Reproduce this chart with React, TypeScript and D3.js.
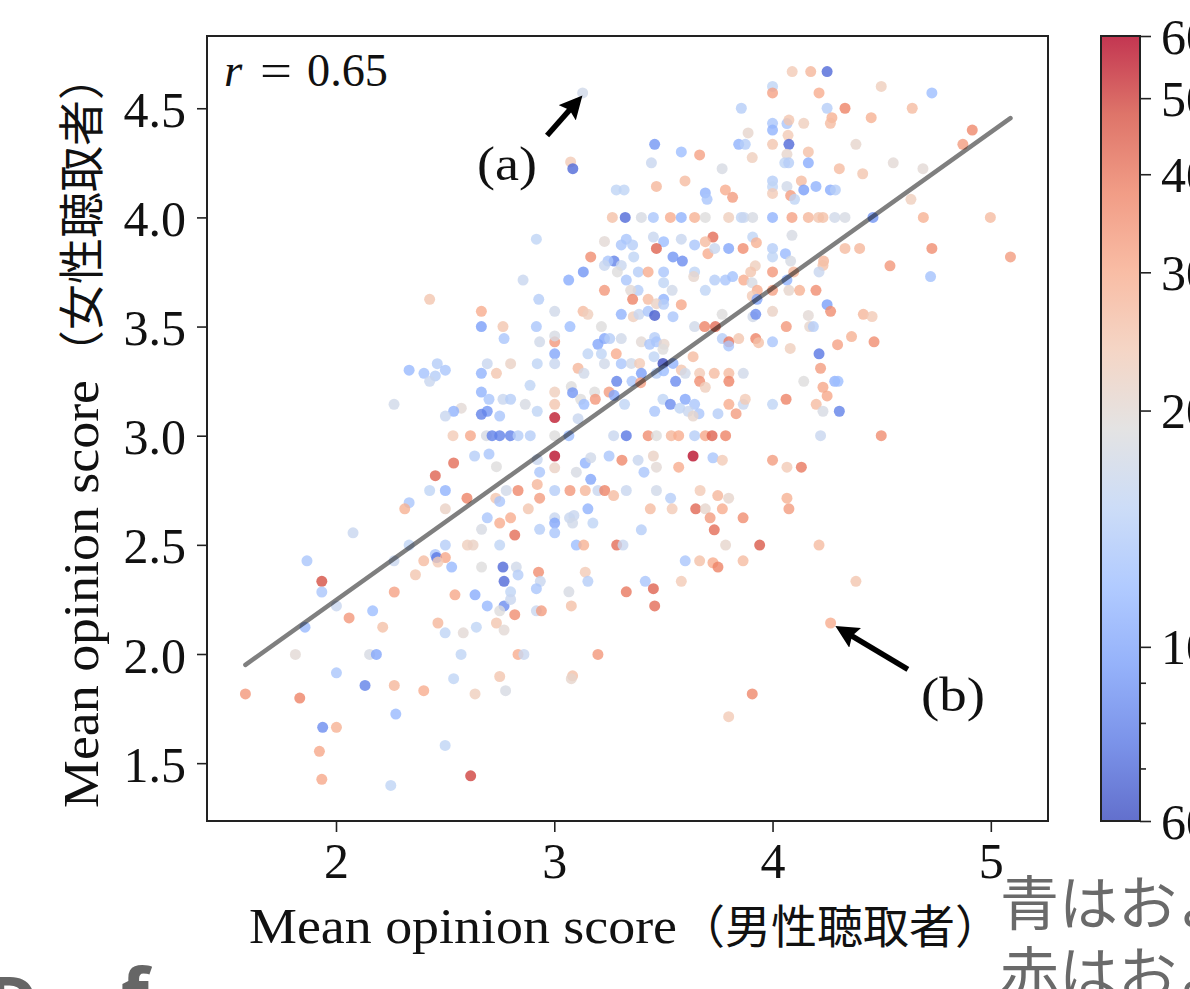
import * as d3 from "d3";
import React, { useEffect, useRef } from "react";

// [男性 MOS, 女性 MOS, count]
const upperLeft = [
  [3.13,4.57,17],[3.075,4.254,24],[3.085,4.223,7],[3.284,4.126,15],[3.32,4.126,15],[3.266,4.0,26],[3.325,4.0,7],
  [2.918,3.9,15],[3.23,3.89,20],[3.33,3.9,13],[3.307,3.874,13],[3.167,3.819,36],[3.274,3.8,8],[3.246,3.8,13],
  [3.23,3.78,16],[3.307,3.78,16],[3.289,3.75,19],[3.133,3.75,9],[3.066,3.713,10.5],[2.857,3.713,16],[3.33,3.713,13],
  [3.23,3.666,34],[2.429,3.625,25],[2.929,3.625,14],[2.666,3.57,30],[3.002,3.57,17],[3.132,3.57,27],[3.154,3.556,23],
  [3.307,3.556,11],[2.666,3.5,9.5],[2.765,3.5,25],[2.918,3.5,13],[3.072,3.5,12],[3.216,3.5,19],[2.77,3.445,13],
  [3.23,3.445,10],[3.254,3.445,14],[3.2,3.419,10],[3.307,3.445,17],[2.933,3.43,17],[3.002,3.43,34],[3.002,3.457,18],
  [3.002,3.375,10],[3.154,3.375,15],[3.216,3.375,15],[3.284,3.375,30],[3.307,3.33,13],[2.693,3.33,16],[2.8,3.33,22],
  [2.922,3.33,15],[3.002,3.33,16],[3.23,3.33,17],[2.335,3.3,11.5],[2.403,3.286,12.5],[2.464,3.33,14],[2.501,3.3,13],
  [2.455,3.274,14],[2.429,3.249,16],[2.666,3.286,11],[2.735,3.286,25],[3.109,3.309,28],[3.136,3.286,17],[3.286,3.249,8],
  [2.889,3.231,15],[2.666,3.2,11],[2.701,3.167,13],[2.765,3.167,16],[2.8,3.167,14],[3.002,3.2,23],[3.002,3.144,25],
  [3.078,3.225,19],[3.084,3.197,9],[3.121,3.167,19],[3.136,3.144,12],[3.185,3.2,19],[3.188,3.167,34],[3.251,3.2,33],
  [3.274,3.185,10],[3.322,3.144,15],[2.266,3.144,17],[2.574,3.126,20],[2.539,3.112,11],[2.501,3.09,16],[2.867,3.144,18],
  [2.922,3.112,15],[2.693,3.112,9],[2.666,3.098,8],[2.75,3.09,13],[3.002,3.083,56],[3.109,3.078,16],
];

const upperRight = [
  [4.09,4.668,24],[4.175,4.668,28],[4.25,4.668,7],[4.0,4.6,15],[4.0,4.57,32],[4.213,4.57,30],[4.498,4.6,23],[4.73,4.57,12],
  [3.857,4.5,14],[4.25,4.5,14],[4.332,4.5,38],[4.64,4.5,27],[4.272,4.457,29],[4.265,4.431,27],[4.452,4.457,29],[4.0,4.431,13],
  [4.0,4.4,11],[4.066,4.43,13],[4.075,4.446,25],[4.143,4.431,23],[3.888,4.387,21],[4.071,4.376,24],[4.915,4.4,37],[4.872,4.335,33],
  [3.46,4.335,9],[3.845,4.335,11],[3.875,4.335,14],[4.0,4.335,25],[4.075,4.335,7],[4.382,4.335,21],[3.582,4.3,12],[3.666,4.286,32],
  [3.907,4.274,23],[4.066,4.289,21],[4.164,4.3,26],[3.445,4.25,16],[4.056,4.25,15],[4.074,4.25,14],[4.164,4.25,10.5],[4.553,4.25,20],
  [3.769,4.223,18],[4.306,4.223,27],[4.413,4.2,25],[4.689,4.223,20],[3.468,4.142,28],[3.599,4.167,27],[4.0,4.167,14],[4.0,4.141,15],
  [4.0,4.11,24],[4.066,4.142,17],[4.132,4.167,27],[4.083,4.1,33],[4.101,4.083,15],[4.143,4.126,9.5],[4.199,4.142,11],[4.265,4.126,10.5],
  [4.288,4.126,14],[3.692,4.112,11],[3.7,4.083,13],[3.784,4.126,30],[3.817,4.092,33],[4.634,4.083,23],
  [3.399,4.0,18],[3.454,4.0,13],[3.532,4.0,30],[3.582,4.0,11],[3.643,4.0,29],[3.692,4.0,19],[3.799,4.0,23],[3.857,4.0,15],[3.869,4.0,16],
  [3.909,4.0,18],[4.0,4.0,11],[4.089,4.0,32],[4.164,4.0,28],[4.211,4.0,25],[4.231,4.0,26],[4.285,4.0,17],[4.332,4.0,18],[4.46,4.0,9],
  [4.691,4.0,29],[4.998,4.0,27],
  [3.454,3.91,16],[3.501,3.889,12],[3.582,3.9,16],[3.643,3.874,13],[3.727,3.91,42],[3.692,3.889,27],[3.909,3.91,15],[3.926,3.884,29],
  [4.089,3.918,18],[3.359,3.874,14],[3.468,3.858,44],[3.704,3.834,30],[3.735,3.858,16],[3.799,3.858,10],[3.865,3.858,36],[4.0,3.858,14],
  [4.0,3.819,15],[4.059,3.834,11.5],[4.332,3.858,27],[4.399,3.858,28],[4.73,3.858,36],[5.09,3.819,33],[3.364,3.819,15],[3.544,3.819,9],
  [3.587,3.8,8.5],[4.083,3.8,18],[4.234,3.8,28],[4.231,3.78,26],[4.538,3.778,34],[3.921,3.778,23],[3.9,3.75,25],[3.385,3.75,14],
  [3.43,3.75,30],[3.501,3.75,13],[3.643,3.75,15],[3.639,3.729,21],[4.0,3.75,34],[4.097,3.75,28],[4.213,3.75,16],[4.724,3.729,12.5],
  [3.501,3.701,15],[3.735,3.713,14],[3.784,3.713,13],[3.817,3.729,12.5],[3.868,3.713,30],[3.906,3.701,18],[4.066,3.713,11],[3.692,3.666,15],
  [3.54,3.666,17],[3.384,3.666,14],[3.35,3.666,20],[3.93,3.666,30],[4.0,3.666,32],[4.075,3.666,21],[4.124,3.666,29],[4.199,3.666,36],
  [3.907,3.64,24],[3.929,3.625,10],[3.359,3.625,38],[3.43,3.625,27],[3.501,3.625,11],[3.468,3.605,22],[3.501,3.602,14],[3.582,3.6,31],
  [4.25,3.6,9.5],[4.266,3.57,36],[4.416,3.556,28],[4.456,3.546,24],[3.362,3.545,23],[3.388,3.556,16],[3.43,3.57,13],[3.46,3.551,6.5],
  [3.544,3.545,13],[3.769,3.556,19],[3.91,3.545,17],[3.923,3.556,8.5],[4.0,3.57,22],[4.164,3.551,20],[3.643,3.5,17],[3.689,3.5,38],
  [3.738,3.5,42],[4.063,3.5,34],[4.17,3.5,21],[4.187,3.5,14],[3.77,3.445,14],[3.8,3.43,40],[3.799,3.411,13],[3.845,3.445,25],
  [3.923,3.445,38],[3.936,3.426,26],[4.0,3.43,13],[4.298,3.417,32],[4.362,3.454,29],[4.465,3.43,36],[4.081,3.4,23],[3.399,3.43,20],
  [3.437,3.419,13],[3.46,3.45,14],[3.468,3.43,13],[3.503,3.419,21],[3.498,3.396,19],[4.213,3.375,7.5],[3.636,3.362,27],[3.457,3.362,15],
  [3.353,3.331,17],[3.391,3.331,24],[3.498,3.331,6],[3.544,3.331,11],[3.582,3.301,25],[3.6,3.286,17],[3.666,3.286,24],[3.733,3.286,27],
  [3.8,3.286,27],[3.866,3.286,17],[4.22,3.309,33],[3.399,3.286,9.5],[3.468,3.286,14],[3.501,3.297,12],[3.356,3.249,13],[3.396,3.243,32],
  [3.556,3.249,8.5],[3.666,3.249,36],[3.692,3.222,23],[3.8,3.249,38],[4.143,3.249,19],[4.285,3.249,11],[4.3,3.249,12],[4.231,3.222,31],
  [4.25,3.182,31],[3.498,3.167,15],[3.6,3.167,10],[3.532,3.144,8.5],[3.575,3.126,15],[3.643,3.144,13],[3.46,3.112,13],[3.613,3.112,16],
  [3.663,3.101,13],[3.636,3.09,21],[3.75,3.101,14],[3.8,3.144,30],[3.833,3.101,33],[3.866,3.144,16],[3.875,3.167,24],[4.0,3.144,15],
  [4.062,3.167,38],[4.2,3.144,27],[4.231,3.112,18],[4.306,3.112,8],
];

const lowerLeft = [
  [2.536,3.0,24],[2.616,3.0,31],[2.689,3.0,18],[2.715,3.0,8],[2.75,3.0,8],[2.799,3.0,8],[2.834,3.0,14],[2.89,3.0,14],[3.002,3.0,19],
  [3.067,3.0,12],[3.272,3.0,16],[3.33,3.0,7.5],[3.002,2.907,58],[3.002,2.853,22],[2.635,2.907,14],[2.701,2.916,13],[2.539,2.875,42],
  [2.735,2.858,19],[2.455,2.817,44],[3.142,2.875,11],[3.167,2.899,17],[3.251,2.907,13],[3.31,2.888,37],[2.922,2.891,16],[2.933,2.833,13],
  [3.101,2.833,18],[3.167,2.8,10],[2.429,2.749,15],[2.501,2.749,11],[2.6,2.714,38],[2.732,2.714,25],[2.75,2.699,13],[2.78,2.749,17],
  [2.834,2.749,37],[2.922,2.777,28],[2.933,2.714,33],[3.002,2.749,14],[3.072,2.749,34],[3.142,2.749,28],[3.2,2.749,16],[3.231,2.749,38],
  [3.272,2.726,27],[3.33,2.749,16],[2.335,2.693,13],[2.315,2.665,29],[2.501,2.665,22],[2.881,2.665,25],[3.154,2.665,11],[2.693,2.624,13],
  [2.8,2.624,30],[2.75,2.6,30],[3.002,2.624,16],[3.002,2.6,10],[3.002,2.555,13],[3.07,2.624,16],[3.09,2.635,16],[3.084,2.6,17],
  [3.177,2.6,15],[2.667,2.571,18],[2.933,2.571,14],[2.819,2.545,42],[2.078,2.555,16],[2.335,2.499,15],[2.501,2.499,14],[2.602,2.499,23],
  [2.628,2.499,22],[2.75,2.499,15],[3.101,2.499,12],[3.135,2.499,29],[3.286,2.499,42],[3.315,2.499,16],[2.455,2.456,13],[2.461,2.442,7.5],
  [2.501,2.442,31],[2.467,2.421,24],[1.867,2.427,13],[2.266,2.427,16],[2.402,2.427,27],[2.53,2.398,11.5],[2.667,2.398,19],[2.765,2.398,7],
  [2.826,2.398,17],[2.834,2.362,14],[2.928,2.375,36],[3.142,2.375,24],[2.364,2.363,25],[1.935,2.333,48],[2.77,2.333,7],[2.936,2.333,16],
  [3.154,2.333,14],[1.935,2.284,13],[2.267,2.284,32],[2.545,2.271,31],[2.637,2.271,10.5],[2.8,2.285,15],[2.918,2.299,13],[3.067,2.285,18],
  [3.33,2.285,40],[2.002,2.22,16],[2.168,2.198,12],[2.693,2.22,11.5],[2.77,2.22,8.5],[2.8,2.25,16],[2.75,2.198,19],[3.078,2.22,26],
  [2.819,2.18,36],[2.918,2.198,16],[2.941,2.198,33],[2.06,2.165,34],[1.858,2.123,11.5],[2.214,2.123,26],[2.467,2.142,28],[2.643,2.123,15],
  [2.735,2.142,25],[2.77,2.11,20],[2.5,2.097,15],[2.583,2.097,20],[1.814,1.998,20],[2.154,1.998,18],[2.185,1.998,10],[2.573,1.998,15],
  [2.834,1.998,30],[2.861,1.998,16],[3.2,1.998,34],[2.002,1.914,13],[2.539,1.887,15],[2.75,1.897,25],[3.084,1.9,26],[3.078,1.887,21],
  [2.133,1.856,8],[2.267,1.856,28],[2.402,1.832,30],[2.637,1.817,23],[2.777,1.832,18],[1.585,1.817,34],[1.834,1.798,38],[2.274,1.725,11.5],
  [1.939,1.664,8.5],[2.002,1.664,29],[2.5,1.581,15],[1.924,1.554,31],[1.935,1.426,31],[2.251,1.398,15],[2.617,1.442,50],
];

const lowerRight = [
  [3.43,3.0,36],[3.468,3.0,19],[3.536,3.0,28],[3.57,3.0,30],[3.643,3.0,14],[3.692,3.0,31],[3.723,3.0,44],[3.785,3.0,38],[4.22,3.0,16],
  [4.498,3.0,36],[3.384,2.888,16],[3.454,2.907,22],[3.468,2.856,20],[3.636,2.907,58],[3.727,2.899,13],[3.77,2.888,24],[3.57,2.856,30],
  [3.411,2.833,13],[4.0,2.888,33],[4.066,2.856,24],[4.132,2.856,40],[3.468,2.749,17],[3.668,2.749,24],[3.533,2.714,14],[3.749,2.726,28],
  [3.799,2.714,21],[4.066,2.714,29],[3.44,2.665,27],[3.54,2.665,24],[3.648,2.665,43],[3.692,2.665,21],[3.77,2.665,30],[4.075,2.665,33],
  [3.714,2.624,33],[3.865,2.624,36],[3.733,2.569,42],[3.399,2.569,14],[3.785,2.499,21],[3.941,2.499,46],[4.213,2.499,27],[3.6,2.427,13],
  [3.666,2.427,26],[3.727,2.418,30],[3.75,2.398,38],[3.865,2.427,27],[3.417,2.333,13],[3.582,2.333,24],[4.382,2.333,25],[3.454,2.299,44],
  [3.46,2.22,42],[4.266,2.142,30],[3.907,1.817,37],[3.799,1.713,24],
];

const fitMen = [1.585, 5.09];
const fitWomen = [1.95, 4.455];

const xTicks = [2, 3, 4, 5];
const yTicks = [1.5, 2, 2.5, 3, 3.5, 4, 4.5];
const countTicks = [6, 7, 8, 9, 10, 20, 30, 40, 50, 60];
const countLabels = { 6: "60", 10: "10", 20: "20", 30: "30", 40: "40", 50: "50", 60: "60" };
const coolwarm = ["#3b4cc0", "#5a78e4", "#7b9ff9", "#9ebeff", "#c0d4f5", "#dddcdc", "#f2cbb7", "#f7ac8e", "#ee8468", "#d65244", "#b40426"];

// arrows: [tail x, tail y, tip x, tip y] in score units
const arrowA = [2.967, 4.375, 3.108, 4.535];
const arrowB = [4.62, 1.93, 4.315, 2.112];

const SERIF = "'Liberation Serif', serif";
const CJK = "'Noto Sans CJK JP', sans-serif";

const x = d3.scaleLinear().domain([1.409, 5.262]).range([207, 1048]);
const y = d3.scaleLinear().domain([1.235, 4.831]).range([821, 36]);
const countY = d3.scaleLog().domain([6, 60]).range([821, 36]);
const tScale = d3.scaleLinear().domain(coolwarm.map((_, i) => i / 10)).range(coolwarm);
const colour = (v: number) => tScale(Math.log10(v / 6));

export default function App() {
  const svgRef = useRef<SVGSVGElement>(null);

  useEffect(() => {
    const svg = d3.select(svgRef.current);
    const points = [...upperLeft, ...lowerRight, ...upperRight, ...lowerLeft];

    svg
      .select(".dots")
      .selectAll("circle")
      .data(points)
      .join("circle")
      .attr("cx", (d) => x(d[0]))
      .attr("cy", (d) => y(d[1]))
      .attr("r", 5.5)
      .attr("fill", (d) => colour(d[2]))
      .attr("fill-opacity", 0.8);

    svg
      .select(".fit")
      .attr("d", d3.line()(fitMen.map((m, i) => [x(m), y(fitWomen[i])])))
      .attr("stroke", "#000")
      .attr("stroke-opacity", 0.5)
      .attr("stroke-width", 4.5)
      .attr("stroke-linecap", "round")
      .attr("fill", "none");

    const xAxis = svg
      .select(".x-axis")
      .attr("transform", "translate(0,821)")
      .call(d3.axisBottom(x).tickValues(xTicks).tickSize(11).tickFormat(d3.format("d")));
    xAxis.selectAll("text").attr("y", 57).attr("dy", 0);

    const yAxis = svg
      .select(".y-axis")
      .attr("transform", "translate(207,0)")
      .call(d3.axisLeft(y).tickValues(yTicks).tickSize(10).tickPadding(11).tickFormat(d3.format(".1f")));
    yAxis.selectAll("text").attr("dy", 18);

    const cAxis = svg
      .select(".c-axis")
      .attr("transform", "translate(1140,0)")
      .call(d3.axisRight(countY).tickValues(countTicks).tickSize(11).tickPadding(10).tickFormat((d) => countLabels[d as number] ?? ""));
    cAxis.selectAll("text").attr("dy", 17);
    cAxis.selectAll("line").attr("x2", (d) => (countLabels[d as number] ? 11 : 6));

    [xAxis, yAxis, cAxis].forEach((axis) => {
      axis.attr("font-family", SERIF).attr("font-size", 50);
      axis.select(".domain").remove();
      axis.selectAll("text").attr("fill", "#111");
      axis.selectAll("line").attr("stroke", "#222").attr("stroke-width", 1.6);
    });

    svg
      .select("#bar-gradient")
      .selectAll("stop")
      .data(coolwarm)
      .join("stop")
      .attr("offset", (_, i) => `${i * 10}%`)
      .attr("stop-color", (d) => d);

    svg
      .select(".arrows")
      .selectAll("line")
      .data([arrowA, arrowB])
      .join("line")
      .attr("x1", (d) => x(d[0]))
      .attr("y1", (d) => y(d[1]))
      .attr("x2", (d) => x(d[2]))
      .attr("y2", (d) => y(d[3]))
      .attr("stroke", "#000")
      .attr("stroke-width", 5.5)
      .attr("marker-end", "url(#arrow-head)");
  }, []);

  return (
    <svg
      ref={svgRef}
      width={1190}
      height={989}
      style={{ position: "absolute", left: 0, top: 0, background: "#fff" }}
    >
      <defs>
        <linearGradient id="bar-gradient" x1="0" y1="1" x2="0" y2="0" />
        <marker id="arrow-head" viewBox="0 0 10 10" refX="7" refY="5" markerWidth="4.2" markerHeight="4.2" orient="auto">
          <path d="M0,0 L10,5 L0,10 L1.6,5 Z" fill="#000" />
        </marker>
      </defs>

      <g className="dots" />
      <path className="fit" />
      <g className="arrows" />

      <rect x={207} y={36} width={841} height={785} fill="none" stroke="#222" strokeWidth={2} />
      <g className="x-axis" />
      <g className="y-axis" />

      <rect x={1101} y={36} width={39} height={785} fill="url(#bar-gradient)" fillOpacity={0.8} stroke="#222" strokeWidth={2} />
      <g className="c-axis" />

      <text x={224} y={86} fontFamily={SERIF} fontSize={47} fontStyle="italic" fill="#111">
        r
      </text>
      <text x={260} y={86} fontFamily={SERIF} fontSize={47} fill="#111" textLength={32} lengthAdjust="spacingAndGlyphs">
        =
      </text>
      <text x={307} y={86} fontFamily={SERIF} fontSize={47} fill="#111" textLength={81} lengthAdjust="spacingAndGlyphs">
        0.65
      </text>
      <text x={477} y={180} fontFamily={SERIF} fontSize={48} fill="#111" textLength={60} lengthAdjust="spacingAndGlyphs">
        (a)
      </text>
      <text x={921} y={711} fontFamily={SERIF} fontSize={48} fill="#111" textLength={64} lengthAdjust="spacingAndGlyphs">
        (b)
      </text>

      <text x={249} y={943} fontFamily={SERIF} fontSize={50} fill="#111" textLength={428} lengthAdjust="spacingAndGlyphs">
        Mean opinion score
      </text>
      <text x={679} y={943} fontFamily={CJK} fontSize={46} fill="#111">
        （男性聴取者）
      </text>

      <g transform="translate(98,808) rotate(-90)">
        <text x={0} y={0} fontFamily={SERIF} fontSize={50} fill="#111" textLength={428} lengthAdjust="spacingAndGlyphs">
          Mean opinion score
        </text>
        <text x={432} y={0} fontFamily={CJK} fontSize={46} fill="#111">
          （女性聴取者）
        </text>
      </g>

      <text x={1000} y={925} fontFamily={CJK} fontSize={59} fill="#6a6a6a">
        青はおよそ
      </text>
      <text x={1000} y={996} fontFamily={CJK} fontSize={59} fill="#6a6a6a">
        赤はおよそ
      </text>

      <text x={-12} y={1026} fontFamily="'Noto Sans', sans-serif" fontSize={68} fontWeight={700} fill="#666">
        D
      </text>
      <text x={121} y={1020} fontFamily="'Noto Sans', sans-serif" fontSize={72} fontWeight={700} fill="#666">
        f
      </text>
    </svg>
  );
}
